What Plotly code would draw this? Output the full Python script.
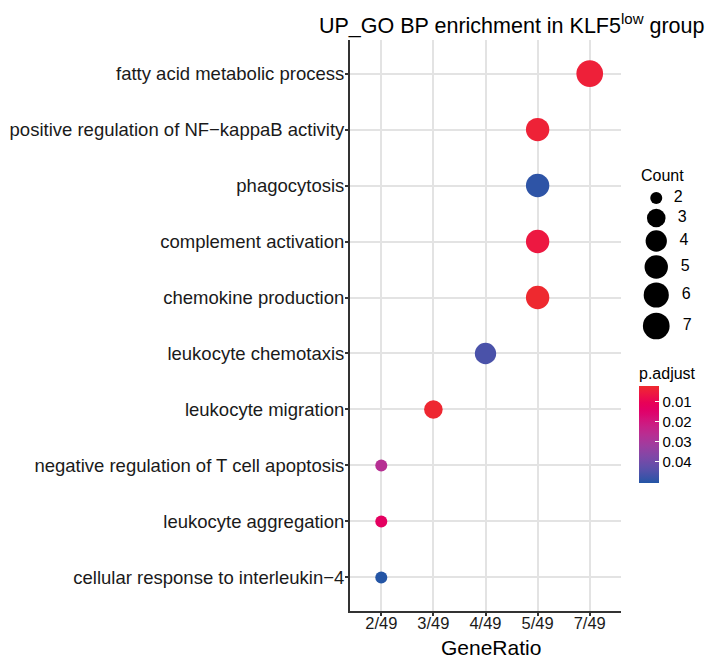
import plotly.graph_objects as go
import numpy as np

# ---------------- data ----------------
terms = [
    "fatty acid metabolic process",
    "positive regulation of NF\u2212kappaB activity",
    "phagocytosis",
    "complement activation",
    "chemokine production",
    "leukocyte chemotaxis",
    "leukocyte migration",
    "negative regulation of T cell apoptosis",
    "leukocyte aggregation",
    "cellular response to interleukin\u22124",
]
gene_ratio = ["7/49", "5/49", "5/49", "5/49", "5/49", "4/49", "3/49", "2/49", "2/49", "2/49"]
counts = [7, 5, 5, 5, 5, 4, 3, 2, 2, 2]
p_adjust = [0.0045, 0.0040, 0.0495, 0.0060, 0.0026, 0.0460, 0.0030, 0.0270, 0.0130, 0.0505]
x_categories = ["2/49", "3/49", "4/49", "5/49", "7/49"]
legend_counts = [2, 3, 4, 5, 6, 7]
cbar_ticks = [0.01, 0.02, 0.03, 0.04]
p_min, p_max = 0.0024, 0.0507

# ---------------- styles ----------------
FONT = "Liberation Sans, Arial, sans-serif"
W, H = 710, 660
LOW_COL, HIGH_COL = "#EE2A2E", "#2255A5"


def srgb_to_lab(hexc):
    r, g, b = [int(hexc[i:i + 2], 16) / 255 for i in (1, 3, 5)]
    def lin(c):
        return c / 12.92 if c <= 0.04045 else ((c + 0.055) / 1.055) ** 2.4
    r, g, b = lin(r), lin(g), lin(b)
    X = (0.4124 * r + 0.3576 * g + 0.1805 * b) / 0.95047
    Y = (0.2126 * r + 0.7152 * g + 0.0722 * b)
    Z = (0.0193 * r + 0.1192 * g + 0.9505 * b) / 1.08883
    def f(t):
        return t ** (1 / 3) if t > 0.008856 else 7.787 * t + 16 / 116
    fx, fy, fz = f(X), f(Y), f(Z)
    return (116 * fy - 16, 500 * (fx - fy), 200 * (fy - fz))


def lab_to_hex(L, a, b):
    fy = (L + 16) / 116
    fx = fy + a / 500
    fz = fy - b / 200
    def finv(t):
        return t ** 3 if t ** 3 > 0.008856 else (t - 16 / 116) / 7.787
    X, Y, Z = finv(fx) * 0.95047, finv(fy), finv(fz) * 1.08883
    r = 3.2406 * X - 1.5372 * Y - 0.4986 * Z
    g = -0.9689 * X + 1.8758 * Y + 0.0415 * Z
    bb = 0.0557 * X - 0.2040 * Y + 1.0570 * Z
    def gam(c):
        c = c * 12.92 if c <= 0.0031308 else 1.055 * c ** (1 / 2.4) - 0.055
        return int(round(min(max(c, 0), 1) * 255))
    return "#%02X%02X%02X" % (gam(r), gam(g), gam(bb))


def to_lch(lab):
    L, a, b = lab
    return L, np.hypot(a, b), np.degrees(np.arctan2(b, a))


L1, C1, H1 = to_lch(srgb_to_lab(LOW_COL))
L2, C2, H2 = to_lch(srgb_to_lab(HIGH_COL))
dh = H2 - H1
if dh > 180:
    dh -= 360
elif dh < -180:
    dh += 360

# plotted as -p so that the low-p (red) end sits at the top of the colour bar
colorscale = []
for t in np.linspace(0, 1, 25):
    s = 1 - t
    L = L1 + (L2 - L1) * s
    C = C1 + (C2 - C1) * s
    hh = np.radians(H1 + dh * s)
    colorscale.append([float(t), lab_to_hex(L, C * np.cos(hh), C * np.sin(hh))])


def diam(c):
    return 12 + 14.7 * np.sqrt((c - 2) / 5)


# panel geometry in pixels
PL, PR, PT, PB = 350, 621, 40, 611

fig = go.Figure()

fig.add_trace(go.Scatter(
    x=gene_ratio, y=terms, mode="markers",
    marker=dict(size=[diam(c) for c in counts], color=[-p for p in p_adjust],
                colorscale=colorscale, cmin=-p_max, cmax=-p_min,
                line=dict(width=0), opacity=1,
                colorbar=dict(
                    title=dict(text="p.adjust", side="top",
                               font=dict(size=16, color="black", family=FONT)),
                    tickvals=[-v for v in cbar_ticks], ticktext=[f"{v:.2f}" for v in cbar_ticks],
                    ticks="inside", ticklen=4, tickcolor="white", tickwidth=1,
                    tickfont=dict(size=15, color="black", family=FONT),
                    thickness=20, thicknessmode="pixels",
                    len=119, lenmode="pixels",
                    x=639 / W, xanchor="left", xpad=0,
                    y=1 - 364 / H, yanchor="top", ypad=0,
                    outlinewidth=0,
                )),
    showlegend=False, hoverinfo="skip",
))

# size legend
leg_y = [198, 218, 241, 267, 295, 326]
fig.add_trace(go.Scatter(
    x=[0] * len(legend_counts), y=leg_y, mode="markers+text",
    marker=dict(size=[diam(c) for c in legend_counts], color="black",
                line=dict(width=0), opacity=1),
    text=["  " + str(c) for c in legend_counts], textposition="middle right",
    textfont=dict(size=16, color="black", family=FONT),
    xaxis="x2", yaxis="y2", showlegend=False, hoverinfo="skip", cliponaxis=False,
))

axis_common = dict(showgrid=True, gridcolor="#E3E3E3", gridwidth=2,
                   showline=True, linecolor="#333333", linewidth=2,
                   ticks="outside", ticklen=3, tickcolor="#333333", tickwidth=1.5,
                   zeroline=False, fixedrange=True)

fig.update_layout(
    width=W, height=H,
    margin=dict(l=0, r=0, t=0, b=0),
    paper_bgcolor="white", plot_bgcolor="white",
    font=dict(family=FONT, color="black"),
    xaxis=dict(domain=[PL / W, PR / W], type="category",
               categoryorder="array", categoryarray=x_categories,
               range=[-0.6, len(x_categories) - 0.4], ticklabelstandoff=-7,
               tickfont=dict(size=16.5, color="#1A1A1A"), **axis_common),
    yaxis=dict(domain=[1 - PB / H, 1 - PT / H], type="category",
               categoryorder="array", categoryarray=terms[::-1],
               range=[-0.6, len(terms) - 0.4], ticklabelstandoff=-3,
               tickfont=dict(size=18.5, color="#1A1A1A"), **axis_common),
    xaxis2=dict(domain=[645 / W, 690 / W], range=[-0.5, 1.5], visible=False, fixedrange=True),
    yaxis2=dict(domain=[1 - 345 / H, 1 - 185 / H], range=[345, 185], visible=False, fixedrange=True),
    annotations=[
        dict(text="UP_GO BP enrichment in KLF5<sup>low</sup> group", x=317 / W, y=1 - 24 / H,
             xref="paper", yref="paper", xanchor="left", yanchor="middle", showarrow=False,
             font=dict(size=21.5, color="black", family=FONT)),
        dict(text="GeneRatio", x=491 / W, y=1 - 647 / H, xref="paper", yref="paper",
             xanchor="center", yanchor="middle", showarrow=False,
             font=dict(size=21, color="black", family=FONT)),
        dict(text="Count", x=639 / W, y=1 - 176 / H, xref="paper", yref="paper",
             xanchor="left", yanchor="middle", showarrow=False,
             font=dict(size=16, color="black", family=FONT)),
    ],
)

fig.write_html("out.html", config={"displayModeBar": False},
               post_script="document.body.style.margin='0px';")
